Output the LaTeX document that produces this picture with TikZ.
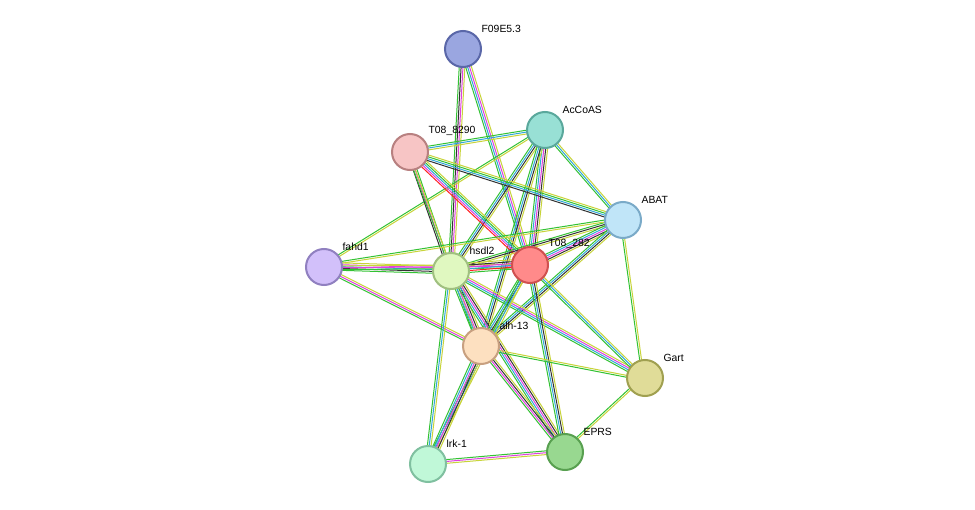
\documentclass[tikz,border=0pt]{standalone}
\usepackage{fontspec}
\setmainfont{Liberation Sans}
\usetikzlibrary{calc}
\definecolor{eg}{HTML}{33C233}
\definecolor{ey}{HTML}{C8D43A}
\definecolor{em}{HTML}{E040E0}
\definecolor{ec}{HTML}{30A8D8}
\definecolor{eb}{HTML}{3838C0}
\definecolor{ek}{HTML}{333333}
\definecolor{er}{HTML}{FF2020}
\newcommand\eg[3]{\foreach \c [count=\i] in {#3}{%
  \pgfmathsetmacro\o{(\i-2.5)*1.4}%
  \draw[\c,line width=0.75pt] ($(#1)!\o pt!90:(#2)$) -- ($(#2)!\o pt!-90:(#1)$);}}
\tikzset{prot/.style={circle,minimum size=27pt,inner sep=0pt,line width=1.5pt},
 lab/.style={font=\fontsize{7.8pt}{8pt}\selectfont,anchor=south west,inner sep=1pt}}
\begin{document}
\begin{tikzpicture}[x=0.75pt,y=-0.75pt]
\useasboundingbox[fill=white] (0,0) rectangle (975,510);
\coordinate (F) at (463,49);
\coordinate (A) at (545,130);
\coordinate (T9) at (410,152);
\coordinate (AB) at (623,220);
\coordinate (fa) at (324,267);
\coordinate (hs) at (451,271);
\coordinate (T2) at (530,265);
\coordinate (al) at (481,346);
\coordinate (G) at (645,378);
\coordinate (E) at (565,452);
\coordinate (L) at (428,464);
\eg{F}{hs}{eg,ek,em,ey}
\eg{F}{T2}{eg,ec,em,ey}
\eg{A}{T9}{eg,ec,ey}
\eg{A}{AB}{eg,ec,ey}
\eg{A}{fa}{eg,ey}
\eg{A}{hs}{eg,ec,ek,ey}
\eg{A}{T2}{eg,ec,em,ek,ey}
\eg{A}{al}{eg,ec,ek,ey}
\eg{T9}{AB}{ek,ec,eg,ey}
\eg{T9}{hs}{ek,em,eg}
\eg{T9}{T2}{er,em,ec,eg,ey}
\eg{T9}{al}{eg,ey}
\eg{AB}{hs}{eg,ek,ey}
\eg{AB}{T2}{eg,ec,em,ek,ey}
\eg{AB}{al}{eg,ec,ek,ey}
\eg{AB}{G}{eg,ey}
\eg{AB}{fa}{eg,ey}
\eg{fa}{hs}{eg,ek,ec,em,ey}
\eg{fa}{T2}{eg,em,ey}
\eg{fa}{al}{eg,em,ey}
\eg{hs}{T2}{eg,er,ec,em,ek,ey}
\eg{hs}{al}{eg,ec,em,ek,ey}
\eg{hs}{G}{eg,ec,em,ey}
\eg{hs}{E}{eg,ec,em,ek,ey}
\eg{hs}{L}{eg,ec,ey}
\eg{T2}{al}{eg,ec,ek,ey}
\eg{T2}{G}{eg,ec,ey}
\eg{T2}{E}{eg,ec,ek,ey}
\eg{T2}{L}{eg,ec,ey}
\eg{al}{G}{eg,ey}
\eg{al}{E}{eg,em,ek,ey}
\eg{al}{L}{eg,ec,em,ek,ey}
\eg{G}{E}{eg,ey}
\eg{E}{L}{eg,em,ey}
\node[prot,fill={rgb,255:red,154;green,166;blue,224},draw={rgb,255:red,90;green,103;blue,168}] (nF) at (F) {};
\node[prot,fill={rgb,255:red,152;green,224;blue,213},draw={rgb,255:red,90;green,168;blue,156}] (nA) at (A) {};
\node[prot,fill={rgb,255:red,247;green,197;blue,197},draw={rgb,255:red,184;green,128;blue,128}] (nT9) at (T9) {};
\node[prot,fill={rgb,255:red,192;green,229;blue,248},draw={rgb,255:red,122;green,170;blue,200}] (nAB) at (AB) {};
\node[prot,fill={rgb,255:red,210;green,192;blue,250},draw={rgb,255:red,144;green,128;blue,192}] (nfa) at (fa) {};
\node[prot,fill={rgb,255:red,224;green,248;blue,192},draw={rgb,255:red,160;green,192;blue,128}] (nhs) at (hs) {};
\node[prot,fill={rgb,255:red,255;green,138;blue,138},draw={rgb,255:red,208;green,80;blue,80}] (nT2) at (T2) {};
\node[prot,fill={rgb,255:red,253;green,224;blue,192},draw={rgb,255:red,200;green,160;blue,128}] (nal) at (al) {};
\node[prot,fill={rgb,255:red,224;green,220;blue,152},draw={rgb,255:red,160;green,160;blue,80}] (nG) at (G) {};
\node[prot,fill={rgb,255:red,152;green,216;blue,144},draw={rgb,255:red,88;green,160;blue,80}] (nE) at (E) {};
\node[prot,fill={rgb,255:red,192;green,248;blue,216},draw={rgb,255:red,128;green,192;blue,160}] (nL) at (L) {};
\node[lab] at ($(F)+(17,-15)$) {F09E5.3};
\node[lab] at ($(A)+(16,-15)$) {AcCoAS};
\node[lab] at ($(T9)+(17,-15)$) {T08\_8290};
\node[lab] at ($(AB)+(17,-15)$) {ABAT};
\node[lab] at ($(fa)+(17,-15)$) {fahd1};
\node[lab] at ($(hs)+(17,-15)$) {hsdl2};
\node[lab] at ($(T2)+(17,-15)$) {T08\_282};
\node[lab] at ($(al)+(17,-15)$) {alh-13};
\node[lab] at ($(G)+(17,-15)$) {Gart};
\node[lab] at ($(E)+(17,-15)$) {EPRS};
\node[lab] at ($(L)+(17,-15)$) {lrk-1};
\end{tikzpicture}
\end{document}
